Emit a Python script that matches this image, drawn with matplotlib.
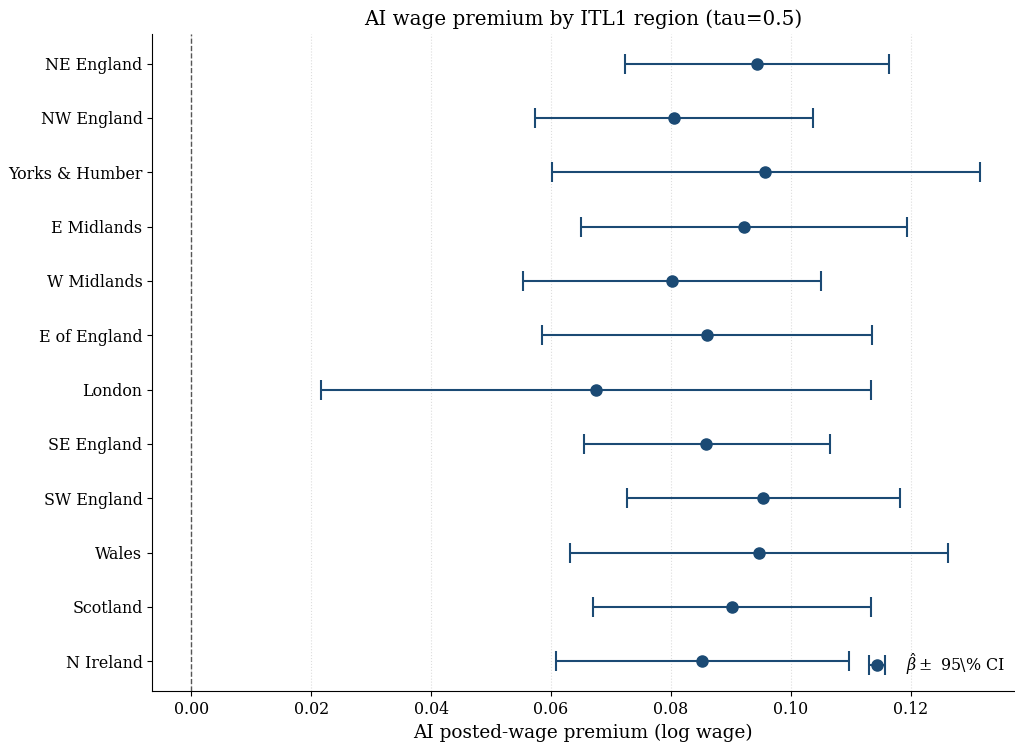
import matplotlib
matplotlib.use("Agg")
import matplotlib.pyplot as plt
import numpy as np

plt.rcParams['font.family'] = 'DejaVu Serif'
plt.rcParams['mathtext.fontset'] = 'dejavuserif'

regions = ['NE England', 'NW England', 'Yorks & Humber', 'E Midlands', 'W Midlands',
           'E of England', 'London', 'SE England', 'SW England', 'Wales', 'Scotland',
           'N Ireland']
beta = [0.0943, 0.0805, 0.0957, 0.0922, 0.0802, 0.0860, 0.0675, 0.0858, 0.0953,
        0.0947, 0.0902, 0.0852]
ci_lo = [0.0723, 0.0573, 0.0602, 0.0650, 0.0553, 0.0585, 0.0217, 0.0655, 0.0727,
         0.0632, 0.0670, 0.0608]
ci_hi = [0.1163, 0.1037, 0.1315, 0.1193, 0.1050, 0.1135, 0.1133, 0.1065, 0.1182,
         0.1262, 0.1133, 0.1097]

col = '#1b4a74'
beta = np.array(beta)
err = np.vstack([beta - np.array(ci_lo), np.array(ci_hi) - beta])
ypos = np.arange(len(regions))

fig, ax = plt.subplots(figsize=(10.15, 7.48), dpi=100)
fig.subplots_adjust(left=0.15, right=0.999, top=0.955, bottom=0.076)

ax.errorbar(beta, ypos, xerr=err, fmt='o', color=col, ecolor=col, elinewidth=1.5,
            capsize=7, capthick=1.5, markersize=8, label=r'$\hat{\beta} \pm$ 95\% CI')
ax.axvline(0, color='#555555', linestyle='--', linewidth=1)

ax.set_yticks(ypos)
ax.set_yticklabels(regions, fontsize=11.4)
ax.invert_yaxis()
ax.tick_params(axis='x', labelsize=11.4)
ax.set_xlim(-0.0065, 0.1372)
ax.set_xticks([0, 0.02, 0.04, 0.06, 0.08, 0.10, 0.12])
ax.set_xlabel('AI posted-wage premium (log wage)', fontsize=13.3)
ax.set_title('AI wage premium by ITL1 region (tau=0.5)', fontsize=14.3)
ax.grid(axis='x', linestyle=':', color='#dddddd', linewidth=0.8)
ax.set_axisbelow(True)
ax.spines['top'].set_visible(False)
ax.spines['right'].set_visible(False)
ax.legend(loc='lower right', bbox_to_anchor=(1.006, 0.0), frameon=False, fontsize=11.4)

fig.savefig('out.png', dpi=100)
